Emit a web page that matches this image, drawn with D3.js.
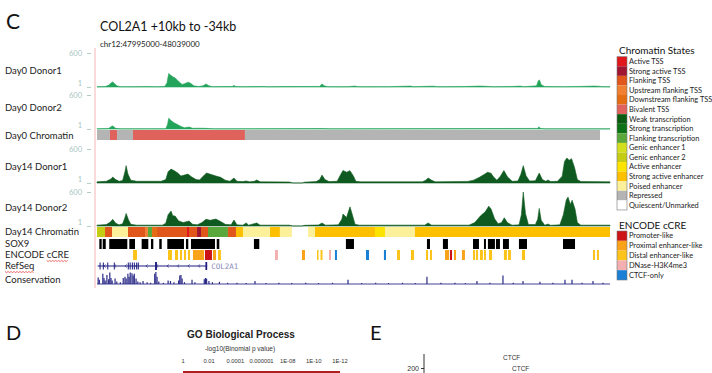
<!DOCTYPE html>
<html><head><meta charset="utf-8">
<script src="https://cdn.jsdelivr.net/npm/d3@7"></script>
<style>body{margin:0;background:#fff}svg{display:block}</style>
</head><body>
<svg id="c" width="712" height="373"></svg>
<script>
// ---- DATA (positions in kb from chr12:47995000; region ends at 48039000 = 44 kb) ----
const regionTitle = "COL2A1 +10kb to -34kb";
const regionCoords = "chr12:47995000-48039000";
const regionKb = [0, 44];

const day0Donor1 = [[0,4],[0.7,8],[1.0,30],[1.2,70],[1.35,90],[1.5,60],[1.7,20],[2.0,6],[3.0,5],[4.2,8],[5.0,5],[5.8,8],[6.0,70],[6.15,240],[6.3,210],[6.5,180],[6.7,160],[6.9,120],[7.1,80],[7.3,45],[7.55,60],[7.8,85],[8.0,70],[8.3,20],[8.7,8],[9.1,20],[9.35,55],[9.6,20],[9.9,6],[10.8,8],[11.6,8],[11.75,28],[11.9,8],[12.5,5],[14.3,10],[14.6,5],[16.0,8],[19.1,10],[19.3,55],[19.5,20],[19.8,6],[21.5,5],[22.1,16],[22.4,5],[25.0,6],[26.9,16],[27.1,5],[28.6,14],[28.9,14],[29.2,5],[31.5,8],[32.8,16],[33.4,12],[34.0,5],[35.5,8],[36.3,16],[36.6,5],[37.7,20],[37.85,110],[37.95,125],[38.1,40],[38.4,8],[40.0,6],[41.5,10],[42.6,16],[43.0,14],[43.4,6],[44,5]];

const day0Donor2 = [[0,3],[1.0,10],[1.2,40],[1.35,55],[1.6,12],[2.0,3],[5.9,5],[6.05,80],[6.15,190],[6.35,150],[6.6,110],[6.9,80],[7.2,45],[7.5,22],[7.9,35],[8.2,12],[8.6,14],[9.3,12],[10,3],[19.3,8],[20,3],[37.8,10],[37.9,38],[38.05,10],[38.4,3],[44,3]];

const day14Donor1 = [[0,20],[0.8,30],[1.2,70],[1.35,105],[1.6,60],[1.9,30],[2.2,45],[2.4,200],[2.5,306],[2.65,160],[2.9,50],[3.4,30],[5.5,30],[5.9,60],[6.1,200],[6.35,245],[6.6,220],[6.9,180],[7.2,123],[7.5,140],[7.8,158],[8.1,110],[8.5,60],[8.8,53],[9.1,120],[9.4,175],[9.8,150],[10.2,123],[10.6,100],[11.0,50],[11.4,30],[11.75,88],[12.0,30],[12.5,25],[12.8,35],[13.1,20],[13.5,30],[13.7,53],[14.0,20],[16.5,18],[16.8,0],[17.6,0],[17.8,15],[18.8,25],[19.1,60],[19.3,140],[19.55,60],[19.9,25],[20.6,30],[20.9,150],[21.1,220],[21.4,190],[21.7,218],[22.0,120],[22.2,30],[22.6,20],[27.9,20],[28.2,50],[28.4,88],[28.7,50],[29.0,20],[31.8,28],[32.3,50],[32.8,100],[33.2,150],[33.5,190],[33.8,170],[34.0,110],[34.3,50],[34.6,120],[34.9,220],[35.2,110],[35.6,30],[36.1,35],[36.35,150],[36.56,306],[36.8,130],[37.1,35],[37.6,40],[37.93,175],[38.2,60],[38.5,30],[38.68,55],[38.9,25],[39.5,30],[39.9,120],[40.1,380],[40.3,440],[40.5,400],[40.7,430],[40.95,280],[41.2,60],[41.5,25],[44,20]];

const day14Donor2 = [[0,15],[0.8,25],[1.15,70],[1.35,117],[1.6,50],[1.9,20],[2.2,40],[2.4,150],[2.5,222],[2.7,110],[2.9,30],[3.4,15],[5.6,15],[5.9,50],[6.1,200],[6.35,263],[6.5,180],[6.7,175],[7.0,90],[7.4,60],[7.9,88],[8.2,30],[8.6,20],[9.0,60],[9.35,120],[9.7,100],[10.2,123],[10.6,80],[11.0,30],[11.5,20],[11.75,105],[12.0,20],[12.5,15],[12.8,53],[13.0,15],[13.7,53],[14.0,15],[16.5,15],[16.8,0],[17.6,0],[17.8,12],[19.0,18],[19.3,53],[19.6,15],[20.7,20],[21.0,120],[21.1,210],[21.4,150],[21.7,338],[21.9,200],[22.13,30],[22.5,15],[28.1,15],[28.4,53],[28.7,15],[31.9,15],[32.4,60],[32.9,180],[33.3,250],[33.6,350],[33.8,300],[34.1,130],[34.4,40],[34.7,60],[34.93,146],[35.2,60],[35.6,15],[36.2,20],[36.4,200],[36.56,600],[36.75,220],[37.0,25],[37.6,25],[37.8,120],[37.93,310],[38.1,100],[38.4,15],[38.68,35],[38.9,12],[39.7,20],[40.0,200],[40.25,460],[40.4,510],[40.6,380],[40.75,455],[41.0,300],[41.2,60],[41.5,15],[44,15]];

const signalTicks = [1, 600];

const stateNames = ["Active TSS","Strong active TSS","Flanking TSS","Upstream flanking TSS","Downstream flanking TSS","Bivalent TSS","Weak transcription","Strong transcription","Flanking transcription","Genic enhancer 1","Genic enhancer 2","Active enhancer","Strong active enhancer","Poised enhancer","Repressed","Quiescent/Unmarked"];

const day0Chromatin = [[0,1.11,"Repressed"],[1.11,1.72,"Bivalent TSS"],[1.72,3.09,"Repressed"],[3.09,12.69,"Bivalent TSS"],[12.69,43.14,"Repressed"]];

const day14Chromatin = [[0,0.69,"Genic enhancer 2"],[0.69,1.29,"Flanking TSS"],[1.29,2.66,"Poised enhancer"],[2.66,4.12,"Flanking TSS"],[4.12,4.37,"Upstream flanking TSS"],[4.37,4.72,"Flanking transcription"],[4.72,5.15,"Downstream flanking TSS"],[5.15,7.72,"Flanking TSS"],[7.72,7.89,"Active TSS"],[7.89,8.58,"Flanking TSS"],[8.58,8.92,"Strong active TSS"],[8.92,9.52,"Flanking TSS"],[9.52,11.23,"Flanking transcription"],[11.23,11.92,"Flanking TSS"],[11.92,12.52,"Strong active enhancer"],[12.52,14.84,"Poised enhancer"],[14.84,15.69,"Strong active enhancer"],[15.69,16.72,"Poised enhancer"],[16.72,18.1,"Quiescent/Unmarked"],[18.1,18.7,"Poised enhancer"],[18.7,23.84,"Strong active enhancer"],[23.84,24.7,"Active enhancer"],[24.7,27.27,"Poised enhancer"],[27.27,44,"Strong active enhancer"]];

const sox9Peaks = [[0.2,0.4],[0.49,0.75],[1.05,2.6],[2.77,3.26],[3.83,4.4],[4.63,4.83],[5.34,5.55],[6.03,7.46],[7.63,7.83],[8.06,10.12],[10.27,10.49],[13.46,13.92],[21.35,22.04],[28.3,28.56],[29.67,30.1],[32.25,32.76],[33.19,33.36],[33.53,34.13],[34.22,34.56],[34.82,35.33],[36.19,36.88],[39.97,41.0]];

const ccreNames = ["Promoter-like","Proximal enhancer-like","Distal enhancer-like","DNase-H3K4me3","CTCF-only"];
const ccreElements = [[3.09,3.43,"Distal enhancer-like"],[6.09,6.43,"Distal enhancer-like"],[6.69,6.95,"Distal enhancer-like"],[7.12,7.29,"Distal enhancer-like"],[7.46,7.63,"Distal enhancer-like"],[7.8,7.98,"Distal enhancer-like"],[8.23,8.58,"Proximal enhancer-like"],[8.58,9.18,"Proximal enhancer-like"],[9.26,9.86,"Promoter-like"],[9.95,10.21,"Proximal enhancer-like"],[10.38,10.63,"Distal enhancer-like"],[15.27,15.52,"DNase-H3K4me3"],[17.58,17.84,"Proximal enhancer-like"],[18.87,19.0,"Distal enhancer-like"],[19.17,19.34,"Distal enhancer-like"],[19.9,20.07,"DNase-H3K4me3"],[20.41,20.58,"CTCF-only"],[23.07,23.33,"CTCF-only"],[24.61,24.79,"CTCF-only"],[25.73,25.99,"Distal enhancer-like"],[26.93,27.19,"Distal enhancer-like"],[28.22,28.39,"Distal enhancer-like"],[28.56,28.73,"Distal enhancer-like"],[29.85,30.19,"Proximal enhancer-like"],[30.27,30.45,"Promoter-like"],[30.62,30.79,"Proximal enhancer-like"],[31.3,31.56,"Proximal enhancer-like"],[32.25,32.42,"Distal enhancer-like"],[32.5,32.68,"Distal enhancer-like"],[32.85,33.1,"Distal enhancer-like"],[33.19,33.36,"Distal enhancer-like"],[33.62,33.88,"Distal enhancer-like"],[34.9,35.16,"Distal enhancer-like"],[35.25,35.5,"Distal enhancer-like"],[36.45,36.71,"Distal enhancer-like"],[42.54,42.71,"Distal enhancer-like"],[42.88,43.05,"Distal enhancer-like"]];

const geneName = "COL2A1";
const geneSpan = [0.05, 9.45];
const geneExons = [[0.22,0.3,"small"],[0.5,0.58,"small"],[0.88,0.96,"small"],[1.44,1.52,"small"],[2.64,2.72,"small"],[2.8,2.88,"small"],[2.99,3.07,"small"],[3.16,3.24,"small"],[3.36,3.44,"small"],[3.5,3.58,"small"],[4.98,5.14,"large"],[9.3,9.45,"large"]];

const conservation = [[0.1,0.55],[0.2,0.35],[0.5,0.85],[0.6,0.5],[0.7,0.3],[0.85,0.75],[1.0,0.4],[1.1,0.95],[1.2,0.5],[1.3,0.3],[1.55,0.45],[1.7,0.2],[2.0,0.15],[2.25,0.5],[2.4,0.6],[2.5,0.45],[2.65,0.85],[2.75,0.6],[2.85,0.95],[3.0,0.9],[3.1,0.7],[3.2,0.85],[3.35,0.45],[3.5,0.2],[3.7,0.15],[3.95,0.25],[4.3,0.15],[4.6,0.1],[4.95,0.85],[5.05,1.0],[5.15,0.6],[5.3,0.2],[5.7,0.1],[6.1,0.3],[6.3,0.25],[6.6,0.15],[7.0,0.3],[7.1,0.7],[7.2,0.75],[7.3,0.45],[7.5,0.15],[8.15,0.35],[8.4,0.15],[9.2,0.4],[9.3,0.5],[9.4,0.45],[9.6,0.25],[9.9,0.15],[10.5,0.18],[11.2,0.1],[12.0,0.1],[12.8,0.08],[13.55,0.25],[14.5,0.08],[15.6,0.1],[16.7,0.08],[17.9,0.1],[19.0,0.08],[20.2,0.1],[21.53,0.35],[22.7,0.08],[23.9,0.1],[25.0,0.08],[26.2,0.1],[27.3,0.08],[28.3,0.6],[29.5,0.1],[30.7,0.1],[31.6,0.08],[32.59,0.25],[33.7,0.1],[34.82,0.7],[35.7,0.1],[36.54,0.25],[37.99,0.18],[39.1,0.1],[40.14,0.35],[40.74,0.35],[41.6,0.1],[42.54,0.25],[43.4,0.1]];

// Panel D / E fragments
const goTitle = "GO Biological Process";
const goAxisTitle = "-log10(Binomial p value)";
const goTickLabels = ["1","0.01","0.0001","0.000001","1E-08","1E-10","1E-12"];
const goTickExponents = [0,2,4,6,8,10,12];
const goBarValue = 12;
const eTicks = [200];
const eLabels = ["CTCF","CTCF"];

// ---- STYLES ----
const stateColors = {"Active TSS":"#e0181c","Strong active TSS":"#a01530","Flanking TSS":"#e0561b","Upstream flanking TSS":"#f07f32","Downstream flanking TSS":"#e46d14","Bivalent TSS":"#e0625c","Weak transcription":"#0b5a12","Strong transcription":"#0d7216","Flanking transcription":"#5aa83c","Genic enhancer 1":"#d2de1e","Genic enhancer 2":"#c4cc14","Active enhancer":"#fde400","Strong active enhancer":"#fcc000","Poised enhancer":"#fdf09a","Repressed":"#b4b4b4","Quiescent/Unmarked":"#ffffff"};
const ccreColors = {"Promoter-like":"#cc1418","Proximal enhancer-like":"#f9a31a","Distal enhancer-like":"#fcc41a","DNase-H3K4me3":"#f4b0b0","CTCF-only":"#1a80d6"};

const svg = d3.select("#c");
const FONT = "Lato, 'Open Sans', sans-serif";
const x = d3.scaleLinear().domain(regionKb).range([97, 610]);

// header
svg.append("text").attr("x",6).attr("y",29).attr("font-family",FONT).attr("font-size",21).attr("fill","#111").text("C");
svg.append("text").attr("x",100).attr("y",31).attr("font-family",FONT).attr("font-size",12.5).attr("fill","#111").text(regionTitle);
svg.append("text").attr("x",100).attr("y",47).attr("font-family",FONT).attr("font-size",8).attr("fill","#222").text(regionCoords);

// pink position line
svg.append("line").attr("x1",95).attr("x2",95).attr("y1",48).attr("y2",288).attr("stroke","#f4b4b4").attr("stroke-width",1);

// signal tracks
const signalTracks = [
  {label:"Day0 Donor1", data:day0Donor1, base:87, color:"#24a45a", labelY:71},
  {label:"Day0 Donor2", data:day0Donor2, base:129, color:"#24a45a", labelY:108},
  {label:"Day14 Donor1", data:day14Donor1, base:183, color:"#0f5a20", labelY:167},
  {label:"Day14 Donor2", data:day14Donor2, base:226, color:"#0f5a20", labelY:208}
];
signalTracks.forEach(t => {
  const y = d3.scaleLinear().domain([0,600]).range([t.base, t.base-34]).clamp(true);
  const area = d3.area().x(d=>x(d[0])).y0(t.base).y1(d=>y(d[1]));
  svg.append("path").datum(t.data).attr("d",area).attr("fill",t.color).attr("stroke",t.color).attr("stroke-width",0.6);
  const ax = svg.append("g").attr("transform","translate(91,0)").call(d3.axisLeft(y).tickValues(signalTicks).tickSize(4).tickPadding(5).tickFormat(d3.format("d")));
  ax.select(".domain").remove();
  ax.selectAll("line").attr("stroke","#b5ccc6");
  ax.selectAll("text").attr("fill","#a8c6be").attr("font-family",FONT).attr("font-size",7.5)
    .attr("dy", d => d===1 ? "-0.2em" : "0.32em");
  svg.append("text").attr("x",5).attr("y",t.labelY).attr("dy","0.35em").attr("font-family",FONT).attr("font-size",9.5).attr("fill","#222").text(t.label);
});

// chromatin tracks
function chromTrack(data, y0, h) {
  svg.append("g").selectAll("rect").data(data).join("rect")
    .attr("x",d=>x(d[0])).attr("width",d=>x(d[1])-x(d[0])).attr("y",y0).attr("height",h)
    .attr("fill",d=>stateColors[d[2]]);
}
chromTrack(day0Chromatin, 130, 10);
chromTrack(day14Chromatin, 227, 10);
const otherLabels = [["Day0 Chromatin",136],["Day14 Chromatin",232],["SOX9",243.5],["ENCODE cCRE",255],["RefSeq",266],["Conservation",279.5]];
const lbls = {};
otherLabels.forEach(([t,yy]) => {
  lbls[t] = svg.append("text").attr("x",5).attr("y",yy).attr("dy","0.35em").attr("font-family",FONT).attr("font-size",9.5).attr("fill","#222").text(t);
});

// SOX9
svg.append("g").selectAll("rect").data(sox9Peaks).join("rect")
  .attr("x",d=>x(d[0])).attr("width",d=>Math.max(1,x(d[1])-x(d[0]))).attr("y",239).attr("height",10).attr("fill","#000");

// cCRE
svg.append("g").selectAll("rect").data(ccreElements).join("rect")
  .attr("x",d=>x(d[0])).attr("width",d=>Math.max(1.5,x(d[1])-x(d[0]))).attr("y",250).attr("height",10).attr("fill",d=>ccreColors[d[2]]);

// spell-check squiggles under "cCRE" and "RefSeq"
function squiggle(x0, x1, yy) {
  const pts = d3.range(x0, x1, 1.5).map((xx,i)=>[xx, yy + (i%2 ? 1 : 0)]);
  svg.append("path").attr("d", d3.line()(pts)).attr("fill","none").attr("stroke","#e03030").attr("stroke-width",0.7);
}
{
  const enc = lbls["ENCODE cCRE"].node();
  const full = enc.getComputedTextLength();
  const sub = enc.getSubStringLength(0,7);
  squiggle(5+sub, 5+full, 260.5);
  const rs = lbls["RefSeq"].node().getComputedTextLength();
  squiggle(5, 5+rs, 271.5);
}

// RefSeq gene
const geneY = 266;
svg.append("line").attr("x1",x(geneSpan[0])).attr("x2",x(geneSpan[1])).attr("y1",geneY).attr("y2",geneY).attr("stroke","#1b1b80").attr("stroke-width",1);
const chevrons = d3.range(geneSpan[0]+0.6, geneSpan[1]-0.3, 0.9);
svg.append("g").selectAll("path").data(chevrons).join("path")
  .attr("d",d=>`M${x(d)+1.2},${geneY-1.6}L${x(d)-0.6},${geneY}L${x(d)+1.2},${geneY+1.6}`)
  .attr("fill","none").attr("stroke","#1b1b80").attr("stroke-width",0.6);
svg.append("g").selectAll("rect").data(geneExons).join("rect")
  .attr("x",d=>x(d[0])).attr("width",d=>Math.max(1,x(d[1])-x(d[0])))
  .attr("y",d=>d[2]==="large"?geneY-4:geneY-3.5).attr("height",d=>d[2]==="large"?8:7).attr("fill","#1b1b80");
svg.append("text").attr("x",x(geneSpan[1])+4).attr("y",geneY).attr("dy","0.35em").attr("font-family","'DejaVu Sans Mono', monospace").attr("font-size",7.5).attr("fill","#8a8ab8").text(geneName);

// Conservation
const cy = d3.scaleLinear().domain([0,1]).range([284,272]);
svg.append("line").attr("x1",x(0)).attr("x2",x(44)).attr("y1",cy(0)).attr("y2",cy(0)).attr("stroke","#2a2a88").attr("stroke-width",0.9);
svg.append("g").selectAll("line").data(conservation).join("line")
  .attr("x1",d=>x(d[0])).attr("x2",d=>x(d[0])).attr("y1",cy(0)).attr("y2",d=>cy(d[1]))
  .attr("stroke","#2a2a88").attr("stroke-width",1.2);

// Legends
function legend(title, names, colors, titleY, y0, step) {
  svg.append("text").attr("x",619).attr("y",titleY).attr("dy","0.35em").attr("font-family",FONT).attr("font-size",10).attr("fill","#111").text(title);
  const g = svg.append("g");
  g.selectAll("rect").data(names).join("rect")
    .attr("x",617).attr("y",(d,i)=>y0+i*step).attr("width",10).attr("height",step).attr("fill",d=>colors[d]);
  g.append("rect").attr("x",617).attr("y",y0).attr("width",10).attr("height",step*names.length).attr("fill","none").attr("stroke","#777").attr("stroke-width",0.6);
  g.selectAll("text").data(names).join("text")
    .attr("x",629).attr("y",(d,i)=>y0+(i+0.5)*step).attr("dy","0.35em").attr("font-family",FONT).attr("font-size",7.4).attr("fill","#222").text(d=>d);
}
legend("Chromatin States", stateNames, stateColors, 50, 56.7, 9.58);
legend("ENCODE cCRE", ccreNames, ccreColors, 225, 231, 9.8);

// Panel D
svg.append("text").attr("x",6).attr("y",340).attr("font-family",FONT).attr("font-size",20).attr("fill","#111").text("D");
svg.append("text").attr("x",241).attr("y",338).attr("text-anchor","middle").attr("font-family","'Liberation Sans', Arial, sans-serif").attr("font-weight","bold").attr("font-size",10).attr("fill","#222").text(goTitle);
svg.append("text").attr("x",240).attr("y",351).attr("text-anchor","middle").attr("font-family","'Liberation Sans', Arial, sans-serif").attr("font-size",6.5).attr("fill","#333").text(goAxisTitle);
const gx = d3.scaleLinear().domain([0,12]).range([183,340]);
svg.append("g").selectAll("text").data(goTickExponents).join("text")
  .attr("x",d=>gx(d)).attr("y",363).attr("text-anchor","middle").attr("font-family","'Liberation Sans', Arial, sans-serif").attr("font-size",5.8).attr("fill","#333")
  .text((d,i)=>goTickLabels[i]);
svg.append("rect").attr("x",gx(0)).attr("y",371).attr("width",gx(goBarValue)-gx(0)).attr("height",2).attr("fill","#b0201e");

// Panel E
svg.append("text").attr("x",370).attr("y",340).attr("font-family",FONT).attr("font-size",20).attr("fill","#111").text("E");
const ey = d3.scaleLinear().domain([200,260]).range([368,340]);
const eax = svg.append("g").attr("transform","translate(424,0)").call(d3.axisLeft(ey).tickValues(eTicks).tickSize(3).tickPadding(2));
eax.select(".domain").attr("d",`M0,354V373`).attr("stroke","#333");
eax.selectAll("line").attr("stroke","#333");
eax.selectAll("text").attr("font-family","'Liberation Sans', Arial, sans-serif").attr("font-size",7).attr("fill","#333");
svg.append("text").attr("x",503).attr("y",360).attr("font-family","'Liberation Sans', Arial, sans-serif").attr("font-size",6.5).attr("fill","#333").text(eLabels[0]);
svg.append("text").attr("x",512).attr("y",371).attr("font-family","'Liberation Sans', Arial, sans-serif").attr("font-size",6.5).attr("fill","#333").text(eLabels[1]);
</script>
</body></html>
